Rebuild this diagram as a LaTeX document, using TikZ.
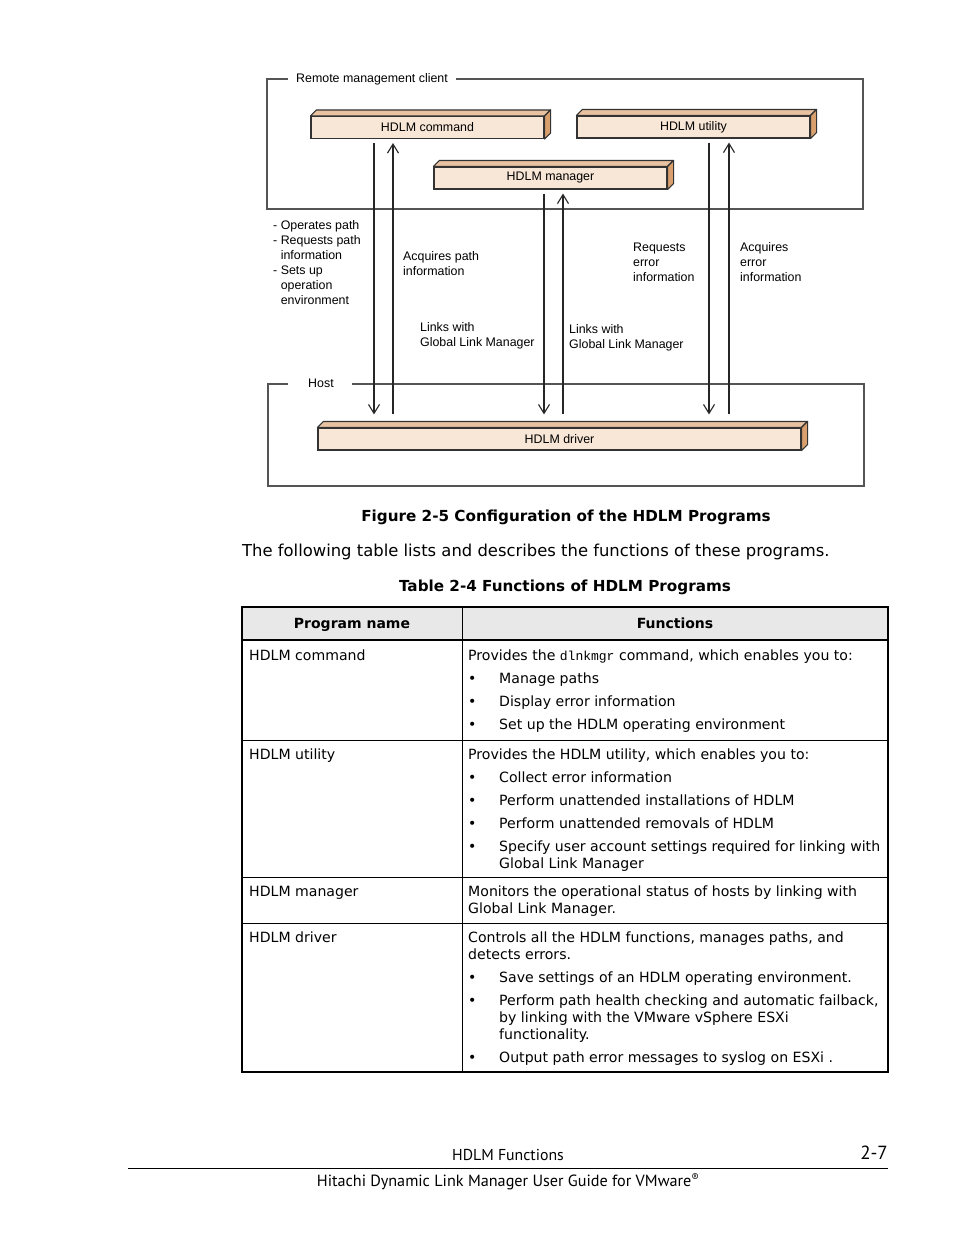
\documentclass[tikz,border=0pt]{standalone}
\usepackage{fontspec}
\setmainfont{DejaVu Sans}
\newfontfamily\arialf{Liberation Sans}
\newfontfamily\footf{PT Sans}
\newfontfamily\monof{Liberation Mono}
\usetikzlibrary{arrows.meta}
\definecolor{facefront}{HTML}{F8E6D6}
\definecolor{facetop}{HTML}{E9C3A1}
\definecolor{faceside}{HTML}{D9A06E}
\definecolor{edgec}{HTML}{333333}
\definecolor{framec}{HTML}{555555}
\definecolor{headbg}{HTML}{E8E8E8}
\tikzset{
  prog/.style={draw=edgec, line width=1.1pt, fill=facefront, inner sep=0pt,
    minimum height=22pt, font=\arialf\fontsize{12.4}{14}\selectfont},
  boxframe/.style={draw=framec, line width=1.2pt},
  arr/.style={draw=black!85, line width=1.1pt, -{Straight Barb[length=9pt,width=11pt,line width=1.1pt]}},
  lbl/.style={font=\arialf\fontsize{12.4}{15}\selectfont, align=left, anchor=north west, inner sep=0pt},
  tt/.style={font=\fontsize{14.1}{17}\selectfont, anchor=base west, inner sep=0pt},
  th/.style={font=\bfseries\fontsize{14}{17}\selectfont, anchor=base, inner sep=0pt},
  captext/.style={font=\bfseries\fontsize{15.2}{18}\selectfont, anchor=base, inner sep=0pt},
}
\newcommand\prismfaces[1]{%
  \fill[facetop, draw=edgec, line width=1.1pt, line join=round] (#1.north west) -- ([shift={(6,-6)}]#1.north west) -- ([shift={(6,-6)}]#1.north east) -- (#1.north east) -- cycle;
  \fill[faceside, draw=edgec, line width=1.1pt, line join=round] (#1.north east) -- ([shift={(6,-6)}]#1.north east) -- ([shift={(6,-6)}]#1.south east) -- (#1.south east) -- cycle;
}
\begin{document}
\begin{tikzpicture}[x=1pt, y=-1pt]
\useasboundingbox[fill=white] (0,0) rectangle (954,1235);

% ---- frames
\node[lbl, anchor=west] (rmclbl) at (296,79) {Remote management client};
\draw[boxframe] (288,79) -- (267,79) -- (267,209) -- (863,209) -- (863,79) -- (456,79);
\node[lbl, anchor=west] (hostlbl) at (308,383) {Host};
\draw[boxframe] (288,384) -- (268,384) -- (268,486) -- (864,486) -- (864,384) -- (352,384);

% ---- program boxes
\node[prog, minimum width=233pt] (cmd) at (427.5,127.5) {HDLM command};
\prismfaces{cmd}
\node[prog, minimum width=233pt] (utl) at (693.5,127) {HDLM utility};
\prismfaces{utl}
\node[prog, minimum width=233pt] (mgr) at (550.5,178) {HDLM manager};
\prismfaces{mgr}
\node[prog, minimum width=483pt] (drv) at (559.5,439) {HDLM driver};
\prismfaces{drv}

% ---- connectors
\draw[arr, shorten <=4pt, shorten >=13pt] ([xshift=-53.5]cmd.south) -- ([xshift=-53.5]cmd.south |- drv.north);
\draw[arr, shorten <=13pt, shorten >=4pt] ([xshift=-34.5]cmd.south |- drv.north) -- ([xshift=-34.5]cmd.south);
\draw[arr, shorten <=4pt, shorten >=13pt] ([xshift=-6.5]mgr.south) -- ([xshift=-6.5]mgr.south |- drv.north);
\draw[arr, shorten <=13pt, shorten >=4pt] ([xshift=12.5]mgr.south |- drv.north) -- ([xshift=12.5]mgr.south);
\draw[arr, shorten <=4pt, shorten >=13pt] ([xshift=15.5]utl.south) -- ([xshift=15.5]utl.south |- drv.north);
\draw[arr, shorten <=13pt, shorten >=4pt] ([xshift=35.5]utl.south |- drv.north) -- ([xshift=35.5]utl.south);

% ---- labels
\node[lbl] (l1) at (273,220) {- Operates path\\- Requests path\\\phantom{- }information\\- Sets up\\\phantom{- }operation\\\phantom{- }environment};
\node[lbl] (l2) at (403,251) {Acquires path\\information};
\node[lbl] (l3) at (420,322) {Links with\\Global Link Manager};
\node[lbl] (l4) at (569,324) {Links with\\Global Link Manager};
\node[lbl] (l5) at (633,243) {Requests\\error\\information};
\node[lbl] (l6) at (740,242) {Acquires\\error\\information};

% ---- captions
\node[captext] (figcap) at (566,521) {Figure 2-5 Configuration of the HDLM Programs};
\node[tt, font=\fontsize{16.4}{19}\selectfont] (intro) at (242,556) {The following table lists and describes the functions of these programs.};
\node[captext] (tabcap) at (565,591) {Table 2-4 Functions of HDLM Programs};

% ---- table
\fill[headbg] (242,607) rectangle (888,640);
\draw[line width=1pt] (462,607) -- (462,1072);
\draw[line width=1pt] (242,740) -- (888,740);
\draw[line width=1pt] (242,877) -- (888,877);
\draw[line width=1pt] (242,923) -- (888,923);
\draw[line width=2pt] (242,640) -- (888,640);
\draw[line width=2.5pt] (242,607) rectangle (888,1072);

\node[th] (h1) at (352,628) {Program name};
\node[th] (h2) at (675,628) {Functions};

\node[tt] (p1) at (249,660) {HDLM command};
\node[tt] (f11) at (468,660) {Provides the {\monof\fontsize{13}{15}\selectfont dlnkmgr} command, which enables you to:};
\node[tt] (b11) at (468,683) {•};\node[tt] (f12) at (499,683) {Manage paths};
\node[tt] (b12) at (468,706) {•};\node[tt] (f13) at (499,706) {Display error information};
\node[tt] (b13) at (468,729) {•};\node[tt] (f14) at (499,729) {Set up the HDLM operating environment};

\node[tt] (p2) at (249,759) {HDLM utility};
\node[tt] (f21) at (468,759) {Provides the HDLM utility, which enables you to:};
\node[tt] (b21) at (468,782) {•};\node[tt] (f22) at (499,782) {Collect error information};
\node[tt] (b22) at (468,805) {•};\node[tt] (f23) at (499,805) {Perform unattended installations of HDLM};
\node[tt] (b23) at (468,828) {•};\node[tt] (f24) at (499,828) {Perform unattended removals of HDLM};
\node[tt] (b24) at (468,851) {•};\node[tt] (f25) at (499,851) {Specify user account settings required for linking with};
\node[tt] (f26) at (499,868) {Global Link Manager};

\node[tt] (p3) at (249,896) {HDLM manager};
\node[tt] (f31) at (468,896) {Monitors the operational status of hosts by linking with};
\node[tt] (f32) at (468,913) {Global Link Manager.};

\node[tt] (p4) at (249,942) {HDLM driver};
\node[tt] (f41) at (468,942) {Controls all the HDLM functions, manages paths, and};
\node[tt] (f42) at (468,959) {detects errors.};
\node[tt] (b41) at (468,982) {•};\node[tt] (f43) at (499,982) {Save settings of an HDLM operating environment.};
\node[tt] (b42) at (468,1005) {•};\node[tt] (f44) at (499,1005) {Perform path health checking and automatic failback,};
\node[tt] (f45) at (499,1022) {by linking with the VMware vSphere ESXi};
\node[tt] (f46) at (499,1039) {functionality.};
\node[tt] (b43) at (468,1062) {•};\node[tt] (f47) at (499,1062) {Output path error messages to syslog on ESXi .};

% ---- footer
\node[font=\footf\fontsize{15.8}{18}\selectfont, anchor=base, inner sep=0pt] (ft1) at (508,1160) {HDLM Functions};
\node[font=\footf\fontsize{19}{22}\selectfont, anchor=base east, inner sep=0pt] (pg) at (888,1159) {2-7};
\draw[line width=0.9pt] (128,1168) -- (888,1168);
\node[font=\footf\fontsize{16.2}{18}\selectfont, anchor=base, inner sep=0pt] (ft2) at (508,1186) {Hitachi Dynamic Link Manager User Guide for VMware\raisebox{5pt}{\fontsize{11}{12}\selectfont ®}};
\end{tikzpicture}
\end{document}
